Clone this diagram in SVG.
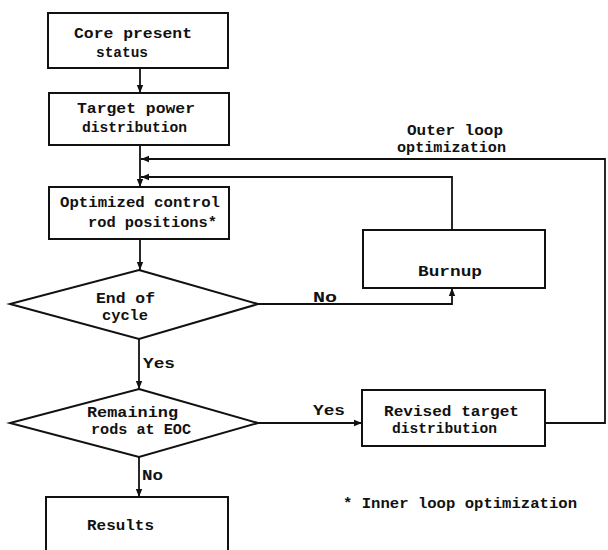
<svg xmlns="http://www.w3.org/2000/svg" width="608" height="550" viewBox="0 0 608 550">
<style>
.box{fill:#fff;stroke:#111;stroke-width:2}
.ln{fill:none;stroke:#111;stroke-width:1.8}
text{font-family:"Liberation Mono","DejaVu Sans Mono",monospace;font-weight:bold;font-size:15.5px;fill:#111}
</style>
<defs>
<marker id="ah" viewBox="0 0 10 10" refX="10" refY="5" markerWidth="8" markerHeight="8" markerUnits="userSpaceOnUse" orient="auto">
<path d="M0,1 L10,5 L0,9 z" fill="#111"/>
</marker>
</defs>
<rect width="608" height="550" fill="#fff"/>
<g id="connectors">
<line class="ln" x1="140" y1="68" x2="140" y2="93" marker-end="url(#ah)"/>
<line class="ln" x1="140" y1="145" x2="140" y2="187" marker-end="url(#ah)"/>
<line class="ln" x1="140" y1="239" x2="140" y2="270" marker-end="url(#ah)"/>
<line class="ln" x1="139" y1="339" x2="139" y2="389" marker-end="url(#ah)"/>
<line class="ln" x1="139" y1="457" x2="139" y2="497" marker-end="url(#ah)"/>
<polyline class="ln" points="258,304 452,304 452,288" marker-end="url(#ah)"/>
<polyline class="ln" points="452,230 452,177 141,177" marker-end="url(#ah)"/>
<line class="ln" x1="258" y1="423" x2="362" y2="423" marker-end="url(#ah)"/>
<polyline class="ln" points="545,423 605,423 605,159 141,159" marker-end="url(#ah)"/>
<text x="313" y="302" textLength="24" lengthAdjust="spacingAndGlyphs">No</text>
<text x="143" y="368" textLength="32" lengthAdjust="spacingAndGlyphs">Yes</text>
<text x="313" y="415" textLength="32" lengthAdjust="spacingAndGlyphs">Yes</text>
<text x="142" y="480" textLength="21" lengthAdjust="spacingAndGlyphs">No</text>
<text x="407" y="135" textLength="96" lengthAdjust="spacingAndGlyphs">Outer loop</text>
<text x="397" y="152" textLength="109" lengthAdjust="spacingAndGlyphs">optimization</text>
</g>
<g id="core">
<rect class="box" x="48" y="13" width="180" height="55"/>
<text x="74" y="38" textLength="118" lengthAdjust="spacingAndGlyphs">Core present</text>
<text x="96" y="57" textLength="52" lengthAdjust="spacingAndGlyphs">status</text>
</g>
<g id="target">
<rect class="box" x="49" y="93" width="180" height="52"/>
<text x="77" y="113" textLength="118" lengthAdjust="spacingAndGlyphs">Target power</text>
<text x="82" y="132" textLength="105" lengthAdjust="spacingAndGlyphs">distribution</text>
</g>
<g id="optimized">
<rect class="box" x="49" y="187" width="180" height="52"/>
<text x="60" y="207" textLength="160" lengthAdjust="spacingAndGlyphs">Optimized control</text>
<text x="88" y="227" textLength="129" lengthAdjust="spacingAndGlyphs">rod positions*</text>
</g>
<g id="endofcycle">
<polygon class="box" points="139,270 258,304 139,339 10,304"/>
<text x="96" y="303" textLength="59" lengthAdjust="spacingAndGlyphs">End of</text>
<text x="102" y="320" textLength="46" lengthAdjust="spacingAndGlyphs">cycle</text>
</g>
<g id="burnup">
<rect class="box" x="363" y="230" width="182" height="58"/>
<text x="418" y="276" textLength="64" lengthAdjust="spacingAndGlyphs">Burnup</text>
</g>
<g id="remaining">
<polygon class="box" points="139,389 258,423 139,457 10,423"/>
<text x="87" y="417" textLength="91" lengthAdjust="spacingAndGlyphs">Remaining</text>
<text x="91" y="434" textLength="100" lengthAdjust="spacingAndGlyphs">rods at EOC</text>
</g>
<g id="revised">
<rect class="box" x="362" y="390" width="183" height="56"/>
<text x="384" y="416" textLength="135" lengthAdjust="spacingAndGlyphs">Revised target</text>
<text x="392" y="433" textLength="105" lengthAdjust="spacingAndGlyphs">distribution</text>
</g>
<g id="results">
<rect class="box" x="46" y="497" width="182" height="70"/>
<text x="87" y="530" textLength="67" lengthAdjust="spacingAndGlyphs">Results</text>
</g>
<g id="note">
<text x="343" y="508" textLength="234" lengthAdjust="spacingAndGlyphs">* Inner loop optimization</text>
</g>
</svg>
